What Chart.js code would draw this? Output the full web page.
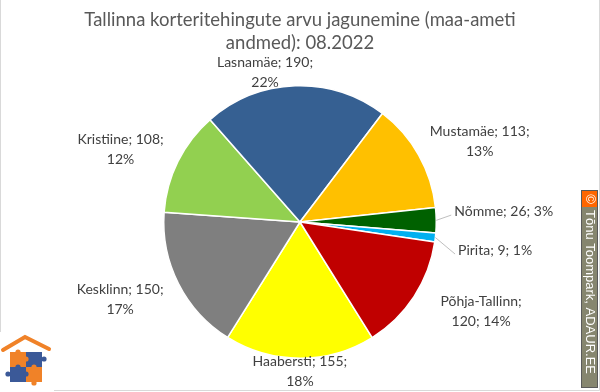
<!DOCTYPE html>
<html>
<head>
<meta charset="utf-8">
<title>Tallinna korteritehingud</title>
<style>
  body { margin: 0; background: #fff; }
  #wrap { position: relative; width: 600px; height: 392px; }
</style>
<script src="https://cdn.jsdelivr.net/npm/chart.js@4/dist/chart.umd.min.js"></script>
</head>
<body>
<div id="wrap"><canvas id="myChart" width="600" height="392"></canvas></div>
<script>
// data
var titleLines = ['Tallinna korteritehingute arvu jagunemine (maa-ameti', 'andmed): 08.2022'];
var labels = ['Haabersti', 'Kesklinn', 'Kristiine', 'Lasnamäe', 'Mustamäe', 'Nõmme', 'Pirita', 'Põhja-Tallinn'];
var values = [155, 150, 108, 190, 113, 26, 9, 120];
var colors = ['#FFFF00', '#7F7F7F', '#92D050', '#366092', '#FFC000', '#006100', '#00B0F0', '#C00000'];
// how many parts ("name", "value", "pct") go on the first line, 3 = one line
var breakAfter = [2, 2, 2, 2, 2, 3, 3, 1];
// small hand nudges for the label boxes
var nudge = [[0, -19], [-9, 1], [-8, 2], [-28, 19], [7, 2], [6, -9], [11, 10], [23, -3]];

var total = values.reduce(function (a, b) { return a + b; }, 0);
var labelFont = '14px Lato';

function drawLogo(ctx) {
  ctx.save();
  ctx.fillStyle = '#fff';
  ctx.fillRect(0, 332, 54, 60);
  ctx.strokeStyle = '#F08228';
  ctx.lineWidth = 4;
  ctx.lineCap = 'round';
  ctx.beginPath();
  ctx.moveTo(3, 350); ctx.lineTo(25, 337); ctx.lineTo(49, 349);
  ctx.stroke();
  var sq = [[10, 352, '#F08228'], [26, 352, '#3B5998'], [10, 367, '#3B5998'], [26, 367, '#F08228']];
  sq.forEach(function (s) {
    ctx.fillStyle = s[2];
    ctx.fillRect(s[0], s[1], 16, 15);
  });
  var knobs = [[26, 359, '#F08228'], [18, 367, '#3B5998'], [34, 367, '#F08228'], [26, 374, '#3B5998'],
               [44, 359, '#3B5998'], [8, 374, '#3B5998'], [34, 383, '#F08228'], [18, 352, '#F08228']];
  knobs.forEach(function (k) {
    ctx.fillStyle = k[2];
    ctx.beginPath(); ctx.arc(k[0], k[1], 2.6, 0, Math.PI * 2); ctx.fill();
  });
  ctx.restore();
}

function drawStamp(ctx) {
  ctx.save();
  ctx.fillStyle = '#86866F';
  ctx.fillRect(581.5, 190.5, 16, 197);
  ctx.strokeStyle = '#5A5A5A';
  ctx.lineWidth = 1;
  ctx.strokeRect(581.5, 190.5, 16, 197);
  ctx.fillStyle = '#FF6600';
  ctx.fillRect(582, 191, 15, 16);
  ctx.fillStyle = '#fff';
  ctx.translate(589.5, 210);
  ctx.rotate(Math.PI / 2);
  ctx.font = '13px "Liberation Sans"';
  ctx.textBaseline = 'middle';
  ctx.textAlign = 'left';
  ctx.fillText('Tõnu Toompark, ADAUR.EE', 0, 0);
  ctx.textAlign = 'center';
  ctx.fillText('©', -11, 0);
  ctx.restore();
}

var decor = {
  id: 'decor',
  beforeDraw: function (chart) {
    var ctx = chart.ctx;
    ctx.save();
    ctx.fillStyle = '#fff';
    ctx.fillRect(0, 0, 600, 392);
    ctx.strokeStyle = '#D9D9D9';
    ctx.lineWidth = 1;
    ctx.beginPath();
    ctx.moveTo(0.5, 0); ctx.lineTo(0.5, 390.5); ctx.lineTo(599.5, 390.5); ctx.lineTo(599.5, 0);
    ctx.stroke();
    ctx.restore();
  },
  afterDraw: function (chart) {
    var ctx = chart.ctx;
    ctx.save();
    // title
    ctx.fillStyle = '#595959';
    ctx.font = '18.5px Lato';
    ctx.textAlign = 'center';
    ctx.textBaseline = 'alphabetic';
    titleLines.forEach(function (t, i) { ctx.fillText(t, 300, 26 + i * 22.5); });

    // data labels
    ctx.font = labelFont;
    ctx.fillStyle = '#404040';
    ctx.textBaseline = 'middle';
    var meta = chart.getDatasetMeta(0);
    meta.data.forEach(function (arc, i) {
      var p = arc.getProps(['x', 'y', 'startAngle', 'endAngle', 'outerRadius'], true);
      var mid = (p.startAngle + p.endAngle) / 2;
      var dx = Math.cos(mid), dy = Math.sin(mid);
      var pct = Math.round(values[i] / total * 100) + '%';
      var parts = [labels[i], String(values[i]), pct];
      var lines = [parts.slice(0, breakAfter[i]).join('; ')];
      if (breakAfter[i] < 3) lines[0] += ';';
      if (breakAfter[i] < 3) lines.push(parts.slice(breakAfter[i]).join('; '));
      var w = Math.max.apply(null, lines.map(function (l) { return ctx.measureText(l).width; }));
      var lh = 20;
      var h = lines.length * lh;
      var R = p.outerRadius + 12;
      var bx = p.x + dx * R + dx * w / 2 + nudge[i][0];
      var by = p.y + dy * R + dy * h / 2 + nudge[i][1];
      ctx.textAlign = 'center';
      lines.forEach(function (l, k) {
        ctx.fillText(l, bx, by + (k - (lines.length - 1) / 2) * lh);
      });
      if (values[i] / total < 0.05) {
        ctx.save();
        ctx.strokeStyle = '#BFBFBF';
        ctx.lineWidth = 1;
        ctx.beginPath();
        ctx.moveTo(p.x + dx * p.outerRadius, p.y + dy * p.outerRadius);
        ctx.lineTo(bx - w / 2 - 3, by + 4);
        ctx.stroke();
        ctx.restore();
      }
    });
    ctx.restore();
    drawLogo(ctx);
    drawStamp(ctx);
  }
};

var ctx = document.getElementById('myChart').getContext('2d');
var chart = new Chart(ctx, {
  type: 'pie',
  data: {
    labels: labels,
    datasets: [{
      data: values,
      backgroundColor: colors,
      borderColor: '#FFFFFF',
      borderWidth: 1.5
    }]
  },
  options: {
    responsive: false,
    devicePixelRatio: 1,
    animation: false,
    rotation: 148,
    layout: { padding: { top: 85, bottom: 33, left: 163, right: 163 } },
    plugins: {
      legend: { display: false },
      tooltip: { enabled: false },
      title: { display: false }
    }
  },
  plugins: [decor]
});
</script>
</body>
</html>
